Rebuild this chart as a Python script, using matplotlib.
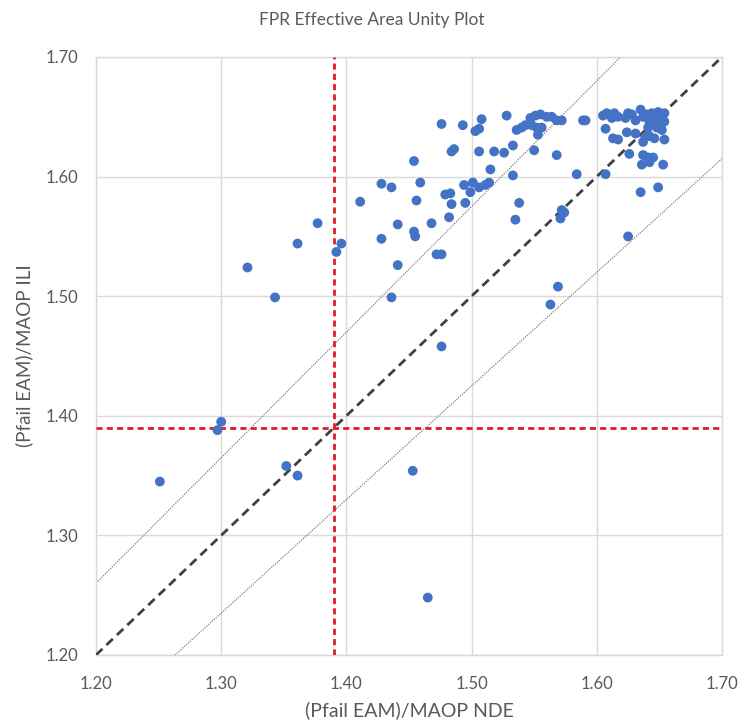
import matplotlib.pyplot as plt
import numpy as np

plt.rcParams['font.family'] = ['Lato', 'DejaVu Sans']

# (Pfail EAM)/MAOP NDE  vs  (Pfail EAM)/MAOP ILI
nde = [1.251, 1.352, 1.361, 1.453, 1.465, 1.300, 1.297, 1.321, 1.343, 1.377,
       1.361, 1.396, 1.392, 1.411, 1.428, 1.436, 1.441, 1.428, 1.454, 1.455,
       1.456, 1.459, 1.454, 1.441, 1.436, 1.468, 1.472, 1.476, 1.476, 1.476,
       1.479, 1.483, 1.484, 1.482, 1.484, 1.486, 1.493, 1.494, 1.495, 1.499,
       1.501, 1.506, 1.511, 1.514, 1.503, 1.506, 1.508, 1.506, 1.515, 1.518,
       1.526, 1.528, 1.533, 1.533, 1.538, 1.535, 1.536, 1.540, 1.543, 1.547,
       1.551, 1.555, 1.560, 1.564, 1.548, 1.552, 1.556, 1.553, 1.568, 1.550,
       1.569, 1.563, 1.568, 1.572, 1.572, 1.574, 1.571, 1.584, 1.589, 1.591,
       1.605, 1.608, 1.612, 1.614, 1.617, 1.623, 1.625, 1.628, 1.631, 1.635,
       1.637, 1.640, 1.644, 1.649, 1.652, 1.654, 1.642, 1.648, 1.650, 1.654,
       1.607, 1.613, 1.617, 1.624, 1.631, 1.641, 1.648, 1.652, 1.639, 1.646,
       1.654, 1.637, 1.642, 1.626, 1.637, 1.641, 1.645, 1.642, 1.636, 1.653,
       1.607, 1.635, 1.649, 1.625]
ili = [1.345, 1.358, 1.350, 1.354, 1.248, 1.395, 1.388, 1.524, 1.499, 1.561,
       1.544, 1.544, 1.537, 1.579, 1.594, 1.591, 1.560, 1.548, 1.554, 1.550,
       1.580, 1.595, 1.613, 1.526, 1.499, 1.561, 1.535, 1.535, 1.458, 1.644,
       1.585, 1.586, 1.577, 1.566, 1.621, 1.623, 1.643, 1.593, 1.578, 1.587,
       1.595, 1.591, 1.593, 1.595, 1.638, 1.640, 1.648, 1.621, 1.606, 1.621,
       1.620, 1.651, 1.626, 1.601, 1.578, 1.564, 1.639, 1.641, 1.643, 1.649,
       1.651, 1.652, 1.650, 1.650, 1.643, 1.641, 1.641, 1.635, 1.647, 1.622,
       1.508, 1.493, 1.618, 1.647, 1.572, 1.570, 1.565, 1.602, 1.647, 1.647,
       1.651, 1.653, 1.649, 1.653, 1.650, 1.649, 1.653, 1.652, 1.647, 1.656,
       1.650, 1.652, 1.653, 1.654, 1.652, 1.653, 1.646, 1.647, 1.645, 1.646,
       1.640, 1.632, 1.631, 1.637, 1.636, 1.641, 1.641, 1.639, 1.633, 1.632,
       1.631, 1.629, 1.634, 1.619, 1.618, 1.616, 1.616, 1.612, 1.610, 1.610,
       1.602, 1.587, 1.591, 1.550]

threshold = 1.39
band = 0.05
ticks = [1.20, 1.30, 1.40, 1.50, 1.60, 1.70]

grey = '#595959'
grid_c = '#d9d9d9'

fig = plt.figure(figsize=(7.43, 7.26), dpi=100)
ax = fig.add_axes([0.1292, 0.0978, 0.8425, 0.8237])

ax.set_xlim(1.20, 1.70)
ax.set_ylim(1.20, 1.70)
ax.set_xticks(ticks)
ax.set_yticks(ticks)
ax.set_xticklabels([f'{t:.2f}' for t in ticks])
ax.set_yticklabels([f'{t:.2f}' for t in ticks])
ax.grid(True, color=grid_c, linewidth=1.0)
ax.set_axisbelow(True)
for s in ax.spines.values():
    s.set_color(grid_c)
    s.set_linewidth(1.0)
ax.tick_params(length=0, labelsize=12, colors=grey)
ax.tick_params(axis='x', pad=15)
ax.tick_params(axis='y', pad=13)

# reference lines
ax.axline((1.2, 1.2), slope=1, color='#404040', linestyle=(0, (3.2, 2)),
          linewidth=2.0, zorder=3)
ax.axline((1.2, 1.2 * (1 + band)), slope=1 + band, color='#7f7f7f',
          linestyle=(0, (1, 1)), linewidth=0.9, zorder=2)
ax.axline((1.2, 1.2 * (1 - band)), slope=1 - band, color='#7f7f7f',
          linestyle=(0, (1, 1)), linewidth=0.9, zorder=2)
ax.axvline(threshold, color='#e01b24', linestyle=(0, (2.2, 1.5)),
           linewidth=2.0, zorder=4)
ax.axhline(threshold, color='#e01b24', linestyle=(0, (2.2, 1.5)),
           linewidth=2.0, zorder=4)

ax.scatter(nde, ili, s=50, color='#4472c4', edgecolors='none', zorder=5)

ax.set_xlabel('(Pfail EAM)/MAOP NDE', fontsize=14, color=grey, labelpad=7)
ax.set_ylabel('(Pfail EAM)/MAOP ILI', fontsize=13.5, color=grey, labelpad=9)
fig.text(0.5, 0.972, 'FPR Effective Area Unity Plot', ha='center', va='center',
         fontsize=12.5, color=grey)

plt.savefig('out.png', dpi=100)
